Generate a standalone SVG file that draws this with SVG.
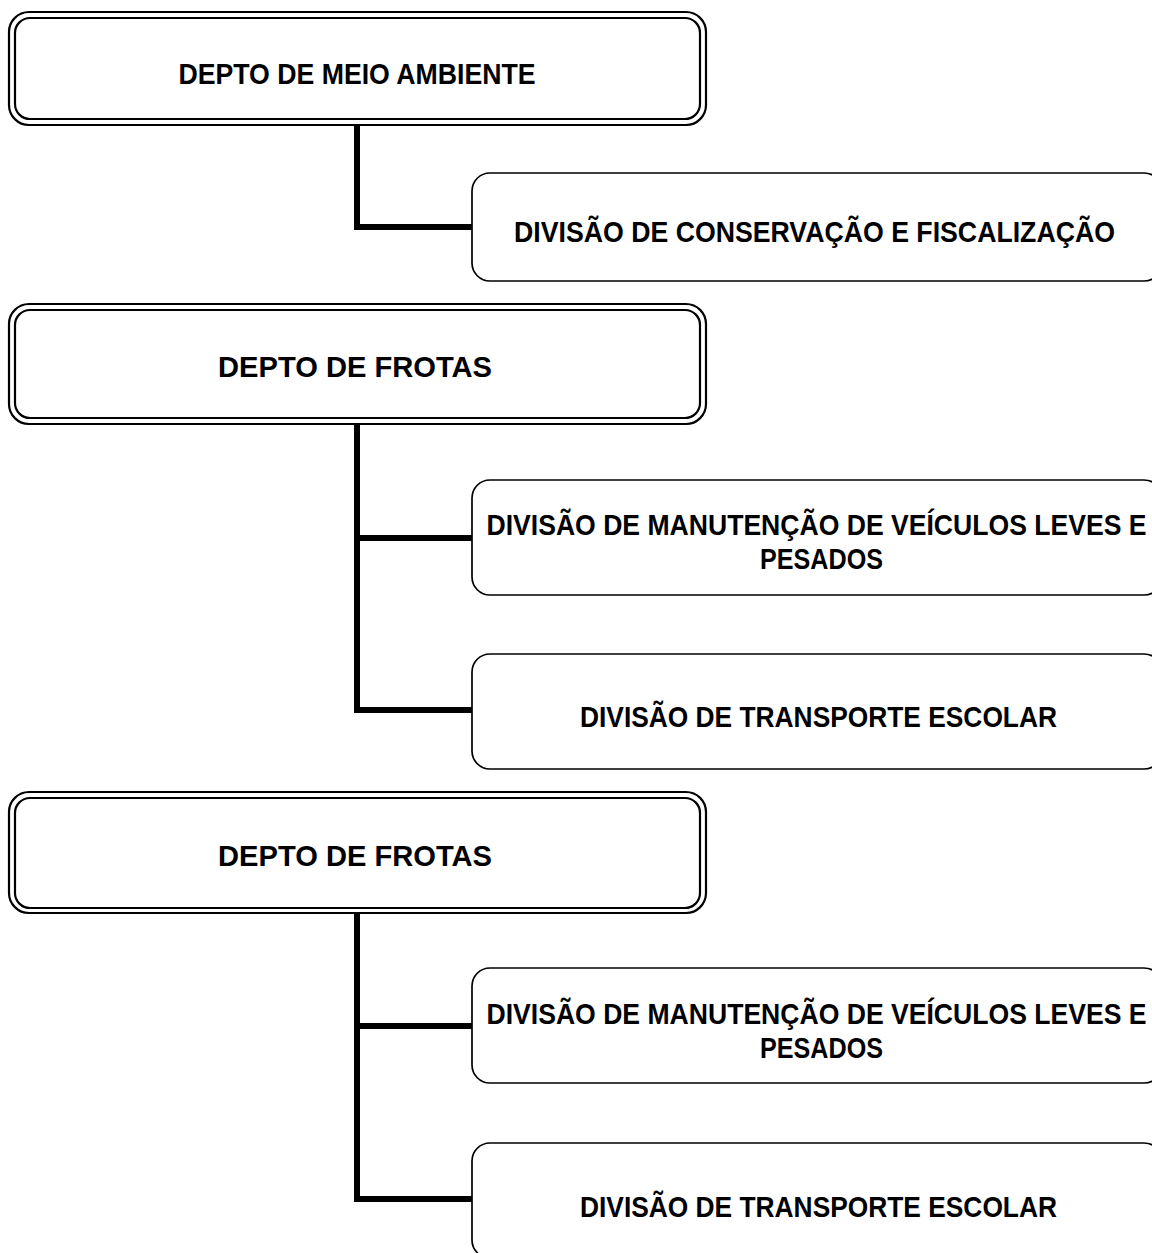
<svg xmlns="http://www.w3.org/2000/svg" width="1152" height="1253" viewBox="0 0 1152 1253">
<style>
.o{fill:#fff;stroke:#000;stroke-width:2.2}
.i{fill:none;stroke:#000;stroke-width:2.2}
.c{fill:#fff;stroke:#000;stroke-width:1.7}
.t{font-family:"Liberation Sans Narrow","Liberation Sans",Arial,sans-serif;font-weight:bold;font-size:30px;fill:#000;text-anchor:middle}
.l{fill:none;stroke:#000;stroke-width:6}
</style>
<rect width="1152" height="1253" fill="#fff"/>
<g id="connectors">
<path class="l" d="M357 124 V227 H473"/>
<path class="l" d="M357 423 V710 H473 M357 538 H473"/>
<path class="l" d="M357 912 V1199 H473 M357 1026 H473"/>
</g>
<g id="depto-meio-ambiente">
<rect class="o" x="9" y="12" width="697" height="113" rx="20"/>
<rect class="i" x="15" y="18" width="685" height="101" rx="15"/>
<text class="t" x="357" y="84" textLength="357" lengthAdjust="spacingAndGlyphs">DEPTO DE MEIO AMBIENTE</text>
</g>
<g id="div-conservacao">
<rect class="c" x="472" y="173" width="690" height="108" rx="18"/>
<text class="t" x="814.5" y="242" textLength="601" lengthAdjust="spacingAndGlyphs">DIVISÃO DE CONSERVAÇÃO E FISCALIZAÇÃO</text>
</g>
<g id="depto-frotas-1">
<rect class="o" x="9" y="304" width="697" height="120" rx="20"/>
<rect class="i" x="15" y="310" width="685" height="108" rx="15"/>
<text class="t" x="355" y="377" textLength="274" lengthAdjust="spacingAndGlyphs">DEPTO DE FROTAS</text>
</g>
<g id="div-manutencao-1">
<rect class="c" x="472" y="480" width="690" height="115" rx="18"/>
<text class="t" x="816.5" y="535" textLength="660" lengthAdjust="spacingAndGlyphs">DIVISÃO DE MANUTENÇÃO DE VEÍCULOS LEVES E</text>
<text class="t" x="821.5" y="569" textLength="123" lengthAdjust="spacingAndGlyphs">PESADOS</text>
</g>
<g id="div-transporte-1">
<rect class="c" x="472" y="654" width="690" height="115" rx="18"/>
<text class="t" x="818.5" y="727" textLength="477" lengthAdjust="spacingAndGlyphs">DIVISÃO DE TRANSPORTE ESCOLAR</text>
</g>
<g id="depto-frotas-2">
<rect class="o" x="9" y="792" width="697" height="121" rx="20"/>
<rect class="i" x="15" y="798" width="685" height="110" rx="15"/>
<text class="t" x="355" y="866" textLength="274" lengthAdjust="spacingAndGlyphs">DEPTO DE FROTAS</text>
</g>
<g id="div-manutencao-2">
<rect class="c" x="472" y="968" width="690" height="115" rx="18"/>
<text class="t" x="816.5" y="1024" textLength="660" lengthAdjust="spacingAndGlyphs">DIVISÃO DE MANUTENÇÃO DE VEÍCULOS LEVES E</text>
<text class="t" x="821.5" y="1058" textLength="123" lengthAdjust="spacingAndGlyphs">PESADOS</text>
</g>
<g id="div-transporte-2">
<rect class="c" x="472" y="1143" width="690" height="115" rx="18"/>
<text class="t" x="818.5" y="1217" textLength="477" lengthAdjust="spacingAndGlyphs">DIVISÃO DE TRANSPORTE ESCOLAR</text>
</g>
</svg>
